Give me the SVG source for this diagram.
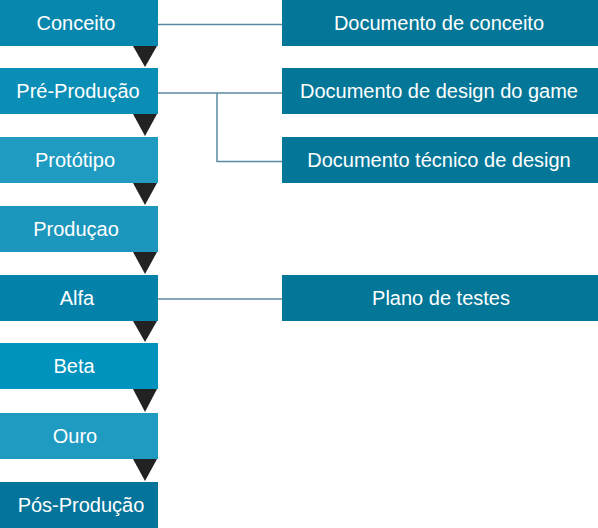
<svg xmlns="http://www.w3.org/2000/svg" width="598" height="528" viewBox="0 0 598 528">
<style>
.t{font-family:"Liberation Sans",Arial,sans-serif;font-size:20px;fill:#ffffff;text-anchor:middle}
.c{stroke:#5a8a9e;stroke-width:1.5;fill:none}
.a{fill:#222222}
.r{fill:#047798}
</style>
<rect width="598" height="528" fill="#ffffff"/>
<g id="connectors">
<path class="c" d="M158 24.5H282"/>
<path class="c" d="M158 93H282"/>
<path class="c" d="M217 93V161.5H282"/>
<path class="c" d="M158 299H282"/>
<polygon class="a" points="133,46 157,46 145,67"/>
<polygon class="a" points="133,114 157,114 145,136"/>
<polygon class="a" points="133,183 157,183 145,205"/>
<polygon class="a" points="133,252 157,252 145,274"/>
<polygon class="a" points="133,321 157,321 145,342"/>
<polygon class="a" points="133,389 157,389 145,412"/>
<polygon class="a" points="133,459 157,459 145,481"/>
</g>
<g id="conceito"><rect x="0" y="0" width="158" height="46" fill="#0887ae"/><text class="t" x="76" y="30">Conceito</text></g>
<g id="pre-producao"><rect x="0" y="68" width="158" height="46" fill="#0a8eb6"/><text class="t" x="78" y="98">Pré-Produção</text></g>
<g id="prototipo"><rect x="0" y="137" width="158" height="46" fill="#1f9ac0"/><text class="t" x="75" y="167">Protótipo</text></g>
<g id="producao"><rect x="0" y="206" width="158" height="46" fill="#1d96bd"/><text class="t" x="76" y="236">Produçao</text></g>
<g id="alfa"><rect x="0" y="275" width="158" height="46" fill="#0582aa"/><text class="t" x="77" y="305">Alfa</text></g>
<g id="beta"><rect x="0" y="343" width="158" height="46" fill="#0093be"/><text class="t" x="74" y="373">Beta</text></g>
<g id="ouro"><rect x="0" y="413" width="158" height="46" fill="#1f9bc1"/><text class="t" x="75" y="443">Ouro</text></g>
<g id="pos-producao"><rect x="0" y="482" width="158" height="46" fill="#04749a"/><text class="t" x="81" y="512">Pós-Produção</text></g>
<g id="doc-conceito"><rect class="r" x="282" y="0" width="316" height="46"/><text class="t" x="439" y="30">Documento de conceito</text></g>
<g id="doc-design-game"><rect class="r" x="282" y="68" width="316" height="46"/><text class="t" x="439" y="98">Documento de design do game</text></g>
<g id="doc-tecnico"><rect class="r" x="282" y="137" width="316" height="46"/><text class="t" x="439" y="167">Documento técnico de design</text></g>
<g id="plano-testes"><rect class="r" x="282" y="275" width="316" height="46"/><text class="t" x="441" y="305">Plano de testes</text></g>
</svg>
